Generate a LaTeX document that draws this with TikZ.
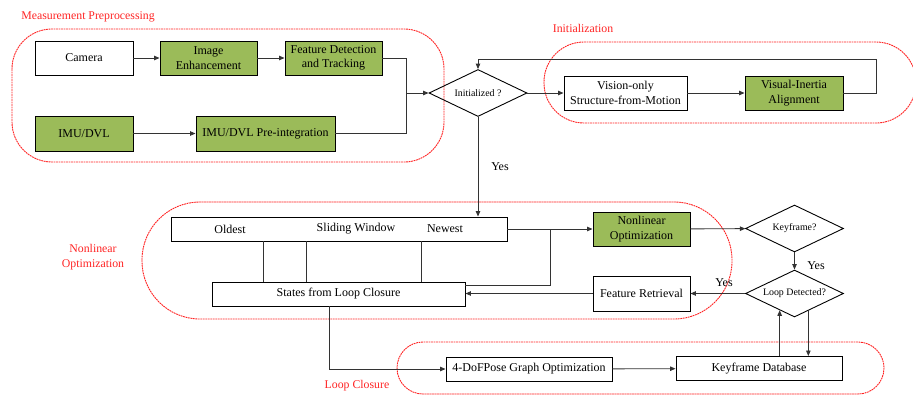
\documentclass[tikz,border=0pt]{standalone}
\usepackage{fontspec}
\setmainfont{Liberation Serif}
\usetikzlibrary{shapes.geometric, arrows.meta, calc}
\definecolor{vertBoite}{RGB}{155,187,89}
\definecolor{rougeZone}{RGB}{255,35,35}

\begin{document}
\begin{tikzpicture}[x=1pt, y=-1pt,
        >={Triangle[length=5.5pt,width=4.5pt]},
        boite/.style={draw, line width=0.95pt, inner sep=0pt, align=center, font=\fontsize{12}{14.5}\selectfont},
        boiteverte/.style={boite, fill=vertBoite},
        losange/.style={draw, line width=0.9pt, diamond, aspect=2, inner sep=0pt, minimum width=98pt, minimum height=47pt, font=\fontsize{9.9}{12}\selectfont},
        zone/.style={draw=rougeZone, line width=0.9pt, dash pattern=on 1.8pt off 0.7pt},
        titre/.style={text=rougeZone, align=center, font=\fontsize{11.8}{15}\selectfont},
        oui/.style={font=\fontsize{12}{14}\selectfont},
        lien/.style={line width=0.9pt, black!80}]
        \useasboundingbox (0,0) rectangle (913,397);
        \clip (0,0) rectangle (913,397);

        % Zones en pointillés rouges
        \draw[zone, rounded corners=40pt] (12,29) rectangle (444,162);
        \draw[zone, rounded corners=40pt] (544,42) rectangle (916,123);
        \draw[zone, rounded corners=58pt] (142,202) rectangle (732,319);
        \draw[zone, rounded corners=26pt] (397,342) rectangle (884,394);

        % Titres des zones
        \node[titre] (tMesure) at (88,17) {Measurement Preprocessing};
        \node[titre] (tInit) at (583,28) {Initialization};
        \node[titre] (tOptim) at (93,257) {Nonlinear\\Optimization};
        \node[titre] (tBoucle) at (357,386) {Loop Closure};

        % Prétraitement des mesures
        \node[boite, minimum width=98pt, minimum height=34pt] (camera) at (84,58) {Camera};
        \node[boiteverte, minimum width=97pt, minimum height=34pt] (enhance) at (208.5,58) {Image\\Enhancement};
        \node[boiteverte, minimum width=97pt, minimum height=34pt] (feature) at (333.5,58) {Feature Detection\\and Tracking};
        \node[boiteverte, minimum width=98pt, minimum height=35pt] (imu) at (84,133.5) {IMU/DVL};
        \node[boiteverte, minimum width=139pt, minimum height=35pt] (preint) at (265.5,133.5) {IMU/DVL Pre-integration};

        % Initialisation
        \node[losange] (init) at (478,93) {Initialized ?};
        \node[boite, minimum width=123pt, minimum height=34pt] (sfm) at (625.5,93) {Vision-only\\Structure-from-Motion};
        \node[boiteverte, minimum width=98pt, minimum height=34pt] (align) at (794,93) {Visual-Inertia\\Alignment};

        % Optimisation non linéaire
        \node[boite, minimum width=336pt, minimum height=24pt] (window) at (339,229) {};
        \node[oui] (oldest) at (230,229) {Oldest};
        \node[oui] (swin) at (356,229) {Sliding Window};
        \node[oui] (newest) at (445,229) {Newest};
        \node[boite, minimum width=253pt, minimum height=24pt] (states) at (338.5,294) {States from Loop Closure};
        \node[boiteverte, minimum width=97pt, minimum height=34pt] (nlopt) at (641.5,229) {Nonlinear\\Optimization};
        \node[boite, minimum width=97pt, minimum height=35pt] (retrieval) at (641.5,293.5) {Feature Retrieval};
        \node[losange] (keyframe) at (794.5,228.5) {Keyframe?};
        \node[losange] (loopdet) at (794.5,293.5) {Loop Detected?};

        % Fermeture de boucle
        \node[boite, minimum width=166pt, minimum height=24pt] (posegraph) at (529,369) {4-DoFPose Graph Optimization};
        \node[boite, minimum width=166pt, minimum height=24pt] (database) at (759,368.5) {Keyframe Database};

        % Points de jonction
        \coordinate (join) at (406,93);
        \coordinate (back) at (876,59);
        \coordinate (tap) at (550,229);
        \coordinate (tapb) at (550,285);
        \coordinate (up) at ($(loopdet.south)!0.3!(loopdet.west)$);
        \coordinate (down) at ($(loopdet.south)!0.28!(loopdet.east)$);

        % Liaisons du prétraitement
        \draw[lien, ->] (camera) -- (enhance);
        \draw[lien, ->] (enhance) -- (feature);
        \draw[lien, ->] (imu) -- (preint);
        \draw[lien] (feature.east) -| (join);
        \draw[lien] (preint.east) -| (join);
        \draw[lien, ->] (join) -- (init.west);

        % Liaisons de l'initialisation
        \draw[lien, ->] (init) -- (sfm);
        \draw[lien, ->] (sfm) -- (align);
        \draw[lien, ->] (align.east) -| (back) -| (init.north);
        \draw[lien, ->] (init.south) -- (init.south |- window.north);
        \node[oui] (yes1) at (500,167) {Yes};

        % Fenêtre glissante et états
        \foreach \x in {263,306,421}
            \draw[lien] (window.south -| \x,0) -- (states.north -| \x,0);
        \draw[lien, ->] (window) -- (nlopt);
        \draw[lien] (tap) -- (tapb) -- (tapb -| states.east);
        \draw[lien, ->] (nlopt) -- (keyframe);
        \draw[lien, ->] (keyframe) -- (loopdet);
        \node[oui] (yes2) at (816,266) {Yes};
        \draw[lien, ->] (loopdet) -- (retrieval);
        \node[oui] (yes3) at (724,283) {Yes};
        \draw[lien, ->] (retrieval.west) -- (retrieval.west -| states.east);

        % Liaisons de la fermeture de boucle
        \draw[lien, ->] (states.south -| 329,0) |- (posegraph.west);
        \draw[lien, ->] (posegraph) -- (database);
        \draw[lien, ->] (database.north -| up) -- (up);
        \draw[lien, ->] (down) -- (down |- database.north);
    \end{tikzpicture}
\end{document}
